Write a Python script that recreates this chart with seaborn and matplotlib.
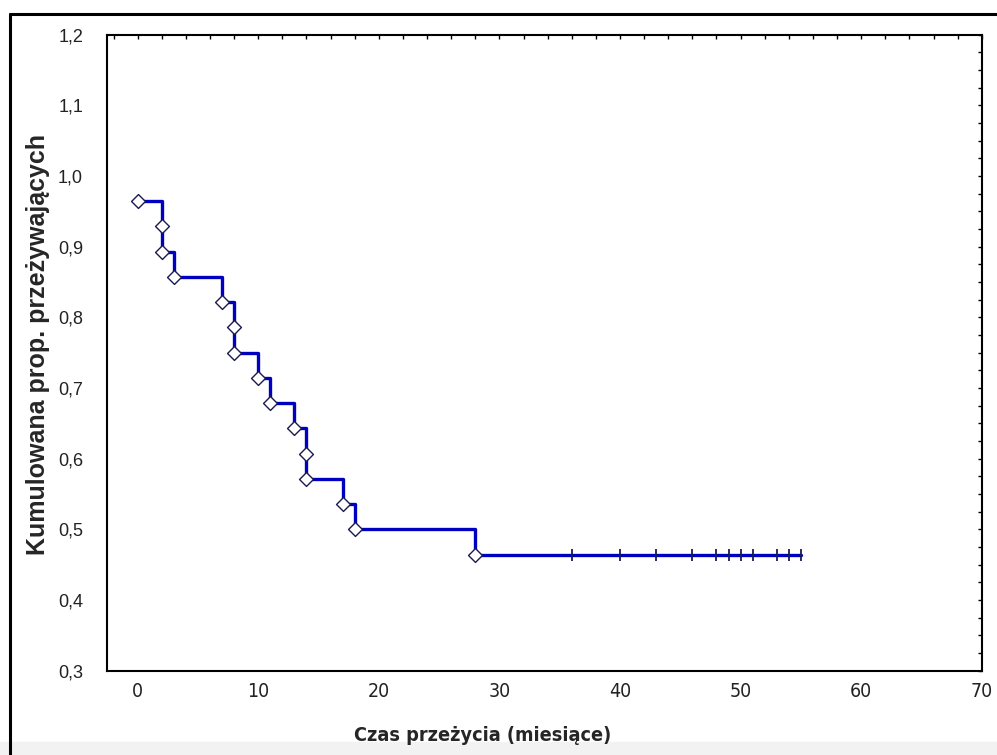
import numpy as np
import pandas as pd
import matplotlib
matplotlib.use("Agg")
import matplotlib.pyplot as plt
import seaborn as sns
from matplotlib.ticker import MultipleLocator, FuncFormatter
from matplotlib.lines import Line2D
from matplotlib.patches import Rectangle
from matplotlib import font_manager as fm

# ---- data ----
event_times = [0, 2, 2, 3, 7, 8, 8, 10, 11, 13, 14, 14, 17, 18, 28]
survival = [0.964, 0.929, 0.893, 0.857, 0.821, 0.786, 0.750, 0.714,
            0.679, 0.643, 0.607, 0.571, 0.536, 0.500, 0.464]
censored_times = [36, 40, 43, 46, 48, 49, 50, 51, 53, 54, 55]
x_ticks = [0, 10, 20, 30, 40, 50, 60, 70]
y_ticks = [0.3, 0.4, 0.5, 0.6, 0.7, 0.8, 0.9, 1.0, 1.1, 1.2]
x_label = "Czas przeżycia (miesiące)"
y_label = "Kumulowana prop. przeżywających"

sns.set_style("white")
plt.rcParams['font.family'] = ['Liberation Sans', 'DejaVu Sans']


def find_narrow(bold):
    best = None
    for f in fm.fontManager.ttflist:
        narrow = ('Narrow' in f.name) or (str(f.stretch) in ('condensed', 'semi-condensed'))
        if not narrow or f.style != 'normal':
            continue
        isbold = f.weight in (700, 'bold') or str(f.weight) == '700'
        if isbold != bold:
            continue
        if 'Liberation' in f.name or best is None:
            best = f
    if best is None:
        return fm.FontProperties(family=['Liberation Sans', 'DejaVu Sans'],
                                 weight='bold' if bold else 'normal')
    return fm.FontProperties(fname=best.fname)


narrow_reg = find_narrow(False)
narrow_bold = find_narrow(True)

fig = plt.figure(figsize=(9.97, 7.55), dpi=100)
ax = fig.add_axes([0.107, 0.1117, 0.8777, 0.8425])

# step line (extends to last censored time)
line_df = pd.DataFrame({
    "t": event_times + [censored_times[-1]],
    "s": survival + [survival[-1]],
})
sns.lineplot(data=line_df, x="t", y="s", ax=ax, estimator=None, sort=False,
             drawstyle="steps-post", color="#0000c0", linewidth=2.4, zorder=2)

# event markers
ev_df = pd.DataFrame({"t": event_times, "s": survival})
sns.scatterplot(data=ev_df, x="t", y="s", ax=ax, marker="D", s=50,
                facecolor="white", edgecolor="#1a1a50", linewidth=1.0, zorder=3)

# censored markers
cen_df = pd.DataFrame({"t": censored_times,
                       "s": [survival[-1]] * len(censored_times)})
sns.scatterplot(data=cen_df, x="t", y="s", ax=ax, marker="|", s=80,
                color="#1a1a50", linewidth=1.3, zorder=3)

ax.set_xlim(-2.57, 70)
ax.set_ylim(0.3, 1.2)
ax.set_xticks(x_ticks)
ax.set_yticks(y_ticks)
ax.xaxis.set_minor_locator(MultipleLocator(2))
ax.yaxis.set_minor_locator(MultipleLocator(0.025))
ax.yaxis.set_major_formatter(FuncFormatter(lambda v, p: f"{v:.1f}".replace(".", ",")))
ax.tick_params(which="both", direction="in", top=True, right=True,
               length=3, width=1, color="black")
ax.tick_params(axis="y", which="major", labelsize=13, pad=17, labelcolor="#222222")
ax.tick_params(axis="x", which="major", labelsize=14, pad=8, labelcolor="#222222")
for lab in ax.get_yticklabels():
    lab.set_family(['Liberation Sans', 'DejaVu Sans'])
for lab in ax.get_xticklabels():
    lab.set_fontproperties(narrow_reg)
    lab.set_fontsize(14)

for sp in ax.spines.values():
    sp.set_color("black")
    sp.set_linewidth(1.5)

ax.set_xlabel(x_label, fontproperties=narrow_bold)
ax.xaxis.label.set_fontsize(14.2)
ax.set_ylabel(y_label, fontsize=18, fontweight="bold",
              family=['Liberation Sans', 'DejaVu Sans'])
ax.xaxis.set_label_coords(0.43, -0.087)
ax.yaxis.set_label_coords(-0.065, 0.512)

# outer frame (left/top black borders, bottom grey band)
fig.add_artist(Rectangle((0, 0), 1, 13 / 755, transform=fig.transFigure,
                         color="#f2f2f2", zorder=0))
fig.add_artist(Line2D([9.5 / 997, 9.5 / 997], [0, 1 - 13.5 / 755],
                      transform=fig.transFigure, color="black", linewidth=2.2))
fig.add_artist(Line2D([9.5 / 997, 1], [1 - 13.5 / 755, 1 - 13.5 / 755],
                      transform=fig.transFigure, color="black", linewidth=2.2))

fig.savefig("out.png", dpi=100)
